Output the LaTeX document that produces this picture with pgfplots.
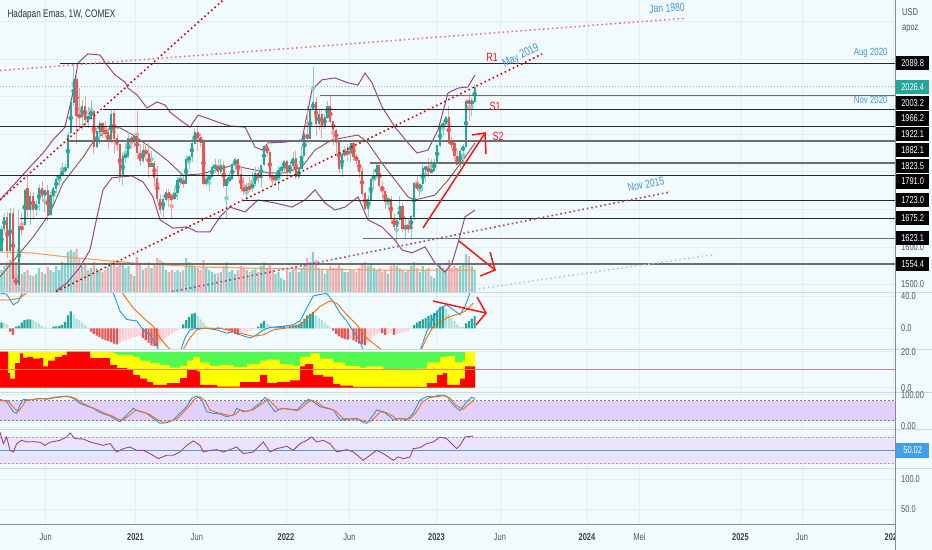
\documentclass[border=0pt]{standalone}
\usepackage{fontspec}
\setmainfont{Liberation Sans}[FakeStretch=0.75]
\usepackage{pgfplots}
\usepackage{pgfplotstable}
\pgfplotsset{compat=1.18}
\definecolor{bg}{RGB}{241,250,253}
\definecolor{gridc}{RGB}{225,238,243}
\definecolor{sepc}{RGB}{205,218,225}
\definecolor{axc}{RGB}{130,140,145}
\definecolor{up}{RGB}{38,166,154}
\definecolor{dn}{RGB}{239,83,80}
\definecolor{uplt}{RGB}{178,223,219}
\definecolor{dnlt}{RGB}{255,205,210}
\definecolor{bbc}{RGB}{150,70,150}
\definecolor{bbm}{RGB}{140,82,82}
\definecolor{macdc}{RGB}{33,150,243}
\definecolor{sigc}{RGB}{255,109,0}
\definecolor{vmac}{RGB}{255,152,80}
\definecolor{lblue}{RGB}{66,150,228}
\definecolor{annred}{RGB}{255,20,20}
\definecolor{txtgray}{RGB}{85,85,85}
\definecolor{stfill}{RGB}{225,208,250}
\definecolor{rsifill}{RGB}{235,228,252}
\definecolor{rsic}{RGB}{150,70,150}
\definecolor{cgreen}{RGB}{80,250,80}
\definecolor{cyellow}{RGB}{255,255,0}
\definecolor{cred}{RGB}{255,0,0}
\definecolor{lvlpurple}{RGB}{190,130,190}
\definecolor{rsiblue}{RGB}{66,160,230}
\definecolor{lvldark}{RGB}{40,40,40}
\definecolor{lvlgray}{RGB}{110,110,110}
\newcommand{\fs}[1]{\fontsize{#1}{#1}\selectfont}

\pgfplotstableread{
i O H L C V M K
0 1590 1655 1585 1648 22 7 1
1 1648 1691 1640 1680 26 6.5 2
2 1680 1692 1570 1590 30 5 2
3 1590 1704 1580 1690 32 -4 3
4 1690 1704 1504 1516 34 -8 3
5 1516 1560 1481 1500 30 2 1
6 1500 1699 1482 1654 28 3 1
7 1654 1690 1630 1645 18 7 1
8 1660 1753 1655 1752 20 10 1
9 1755 1788 1680 1698 22 11 1
10 1698 1747 1659 1736 17 11 1
11 1735 1747 1674 1700 16 10 2
12 1700 1725 1682 1714 18 8 2
13 1714 1765 1695 1756 24 6 2
14 1757 1775 1722 1735 20 3 2
15 1735 1751 1693 1751 18 1 2
16 1750 1765 1670 1683 25 0.5 2
17 1685 1745 1681 1737 22 0.5 2
18 1737 1760 1716 1755 20 2 1
19 1756 1789 1744 1780 26 2.5 1
20 1781 1795 1762 1790 22 3 1
21 1791 1825 1788 1802 30 4 1
22 1803 1820 1797 1810 28 8 1
23 1812 1905 1808 1897 40 16 1
24 1903 1985 1900 1985 42 21 1
25 1985 2089 1978 2046 40 17 2
26 2046 2058 1874 1949 43 12 2
27 1950 2024 1911 1947 34 10 2
28 1946 1990 1911 1974 26 7 2
29 1974 2001 1919 1940 28 4 2
30 1940 1972 1916 1948 22 1 2
31 1948 1990 1940 1962 24 -4 3
32 1962 1965 1848 1866 30 -7 3
33 1866 1917 1864 1907 24 -9 3
34 1907 1935 1873 1930 22 -11 3
35 1930 1933 1890 1906 20 -13 3
36 1906 1935 1891 1905 22 -15 3
37 1905 1915 1860 1880 25 -16 3
38 1880 1966 1877 1952 30 -17 3
39 1955 1965 1848 1889 32 -19 3
40 1889 1900 1855 1873 25 -20 3
41 1873 1875 1774 1788 30 -18 4
42 1788 1850 1765 1840 28 -16 4
43 1840 1877 1823 1843 24 -15 4
44 1843 1906 1837 1888 26 -13 4
45 1888 1896 1861 1883 18 -12 4
46 1883 1904 1867 1895 16 -11 4
47 1895 1963 1835 1850 35 -10 4
48 1850 1875 1817 1829 28 -9 4
49 1829 1875 1823 1856 22 -12 3
50 1856 1876 1832 1848 24 -15 3
51 1848 1876 1784 1814 30 -18 3
52 1814 1855 1812 1823 24 -21 3
53 1823 1828 1760 1784 28 -22 3
54 1784 1816 1717 1728 34 -22 3
55 1728 1741 1687 1700 32 -18 4
56 1700 1739 1676 1727 30 -15 4
57 1727 1755 1719 1745 22 -12 4
58 1745 1755 1706 1732 20 -9 4
59 1732 1740 1677 1729 22 -6 4
60 1729 1758 1725 1744 20 -4 4
61 1744 1785 1725 1777 22 -2 4
62 1777 1797 1765 1777 20 -1 4
63 1777 1790 1756 1768 22 5 1
64 1768 1843 1767 1832 34 10 1
65 1832 1846 1808 1839 30 14 1
66 1839 1890 1825 1876 28 18 1
67 1876 1913 1873 1905 26 19 1
68 1905 1919 1855 1891 24 15 2
69 1891 1903 1867 1878 22 11 2
70 1878 1880 1765 1769 32 7 2
71 1769 1797 1763 1781 24 3 2
72 1781 1791 1750 1787 22 1 2
73 1787 1818 1785 1811 20 -1 3
74 1811 1834 1796 1815 18 -2 3
75 1815 1834 1789 1801 19 1 1
76 1801 1833 1795 1817 20 1 2
77 1817 1830 1758 1763 26 -1 4
78 1763 1783 1677 1780 30 -2 3
79 1780 1796 1772 1781 20 -3 3
80 1781 1823 1778 1819 22 -5 3
81 1819 1836 1805 1833 18 -7 3
82 1833 1834 1782 1792 22 -8 3
83 1792 1812 1745 1754 26 -6 4
84 1754 1787 1737 1752 24 -5 4
85 1752 1770 1721 1758 22 -4 4
86 1758 1785 1746 1757 20 -3 4
87 1757 1800 1747 1767 22 -2 4
88 1767 1814 1761 1796 24 -1 4
89 1796 1813 1770 1783 20 2 1
90 1783 1818 1758 1818 26 6 1
91 1818 1870 1815 1868 30 9 1
92 1868 1877 1842 1852 24 6 2
93 1852 1860 1777 1788 28 4 2
94 1788 1796 1761 1783 22 2 2
95 1783 1795 1768 1784 18 1.5 1
96 1784 1815 1752 1805 20 2 1
97 1805 1816 1785 1811 14 2.5 1
98 1811 1831 1797 1829 12 3 1
99 1829 1832 1786 1797 22 2.5 2
100 1797 1830 1793 1817 20 3 1
101 1817 1853 1807 1835 22 3.5 1
102 1835 1855 1780 1786 26 4 1
103 1786 1813 1780 1808 20 5 1
104 1808 1869 1807 1842 24 8 1
105 1842 1907 1842 1899 28 12 1
106 1899 1976 1878 1889 34 16 1
107 1889 1973 1889 1966 30 18 1
108 1966 2078 1966 1985 40 20 1
109 1985 1998 1895 1929 32 16 2
110 1929 1966 1910 1954 24 13 2
111 1954 1966 1889 1923 22 10 2
112 1923 1953 1915 1945 18 7 2
113 1945 1988 1940 1974 22 4 2
114 1974 2003 1930 1934 26 1 2
115 1934 1936 1872 1911 24 -3 3
116 1911 1915 1850 1883 24 -7 3
117 1883 1885 1797 1808 28 -10 3
118 1808 1850 1787 1846 24 -12 3
119 1846 1870 1840 1852 20 -13 3
120 1852 1875 1828 1851 20 -14 3
121 1851 1877 1825 1875 22 -13 4
122 1875 1880 1830 1840 22 -15 3
123 1840 1847 1822 1830 20 -17 3
124 1830 1830 1783 1801 24 -19 3
125 1801 1812 1733 1742 28 -20 3
126 1742 1745 1697 1703 30 -21 3
127 1703 1739 1680 1727 26 -17 4
128 1727 1784 1711 1781 28 -13 4
129 1781 1806 1754 1791 24 -10 4
130 1791 1824 1782 1816 22 -7 4
131 1816 1824 1759 1762 24 -5 4
132 1762 1775 1728 1749 20 -6 3
133 1749 1751 1700 1721 22 -8 3
134 1721 1734 1697 1728 18 -7 4
135 1728 1735 1661 1675 26 -6 4
136 1675 1689 1643 1655 28 -8 3
137 1655 1676 1615 1672 26 -7 4
138 1672 1735 1670 1709 24 -6 4
139 1709 1718 1640 1649 22 -5 4
140 1649 1680 1621 1656 20 -4 4
141 1656 1675 1637 1648 22 -3 4
142 1648 1686 1617 1681 26 -1 4
143 1681 1774 1672 1769 30 4 1
144 1769 1790 1749 1754 24 7 1
145 1754 1770 1733 1768 20 9 1
146 1768 1820 1749 1809 26 11 1
147 1809 1815 1772 1810 22 13 1
148 1810 1836 1785 1800 24 15 1
149 1800 1833 1797 1804 16 17 1
150 1804 1835 1804 1826 14 19 1
151 1826 1872 1826 1870 24 22 1
152 1870 1924 1865 1921 28 26 1
153 1921 1935 1897 1928 24 27 1
154 1928 1949 1920 1945 22 24 2
155 1945 1975 1875 1877 32 18 2
156 1877 1893 1860 1875 24 13 2
157 1875 1886 1835 1842 26 9 2
158 1842 1855 1817 1818 24 5 2
159 1818 1860 1810 1855 26 2 2
160 1855 1875 1813 1868 28 2 2
161 1868 1994 1868 1989 38 6 1
162 1989 2010 1934 1983 36 9 1
163 1983 1997 1949 1986 26 12 1
164 1986 2035 1983 2026 22 15 1
}\candles

\pgfplotstableread{
px P
0 1725
30 1813
43 1850
53 1885
65 1919
72 1999
78 2090
88 2114
100 2111
107 2084
115 2058
125 2039
128 2023
137 2005
147 1970
157 1986
165 1978
170 1959
180 1938
190 1919
198 1951
207 1943
217 1933
230 1922
245 1919
255 1866
262 1858
268 1877
285 1879
302 1885
312 2018
322 2045
335 2050
348 2037
358 2031
365 2063
372 2037
382 1973
395 1919
408 1877
417 1850
428 1858
438 1911
448 2010
458 2023
468 2026
475 2058
}\bbup

\pgfplotstableread{
px P
0 1520
33 1626
50 1690
63 1770
83 1839
93 1879
110 1917
120 1917
133 1898
150 1866
167 1831
183 1791
200 1794
217 1805
233 1818
245 1810
255 1805
268 1797
285 1797
302 1813
315 1858
332 1885
342 1890
358 1898
368 1877
382 1823
395 1778
408 1733
415 1725
435 1738
448 1778
458 1813
468 1850
475 1877
}\bbmid

\pgfplotstableread{
px P
0 1340
30 1380
50 1440
57 1485
67 1504
80 1546
90 1592
97 1680
103 1752
112 1784
120 1786
132 1789
143 1773
153 1733
160 1672
173 1650
187 1653
197 1640
210 1640
220 1680
230 1706
245 1693
258 1725
275 1717
292 1706
305 1725
315 1752
325 1717
335 1698
345 1706
358 1733
368 1672
382 1653
395 1618
402 1592
412 1584
425 1600
435 1557
445 1533
452 1557
458 1610
465 1680
475 1698
}\bblow

\pgfplotstableread{
px h
0 40
33 39
67 35
100 32
133 29
167 27
200 25
245 24
300 23
368 22
435 22
475 22
}\volma

\pgfplotstableread{
px v
0 44
6.7 42
13.3 29
18.3 33
21.7 42
26.7 55
40 70
80 70
105 60
113.3 44
120 21
126.7 11
136.7 9
143.3 -2
150 -8
156.7 -22
160 -30
170 -35
180 -30
185 -12
190 -2
196.7 0
206.7 0
216.7 -2
226.7 -6
233.3 -4
240 -8
250 -12
256.7 -8
263.3 -2
270 1
283.3 2.5
293.3 4.5
300 9
306.7 25
313.3 40
320 42
326.7 43
333.3 33
340 19
346.7 9
353.3 -4
360 -16
363.3 -28
380 -40
410 -35
420 -28
426.7 -4
433.3 13
440 25
446.7 29
453.3 23
460 17
465 27
470 44
475 52
}\macdline

\pgfplotstableread{
px v
0 35
10 35
20 37.6
26.7 44
30 50
60 62
100 58
118 50
121.7 45
133.3 25
143.3 13
153.3 2.5
160 -12
166.7 -22
171.7 -28
180 -30
183.3 -26
190 -12
196.7 -2
203.3 0
220 0
233.3 -4
253.3 -10
263.3 -8
273.3 -2
290 1
300 4.5
310 15
320 27
330 34
336.7 31
346.7 17
356.7 4.5
366.7 -12
376.7 -22
383.3 -28
400 -35
420 -30
426.7 -12
433.3 2.5
446.7 13
456.7 17
465 21
473.3 31
}\sigline

\pgfplotstableread{
px v
0 20
3 20
8 8
10 5
15 13.5
20 19
23 16.5
27 17
33 16
40 16.5
43 11.7
48 15
55 17
62 18
67 20
90 16.3
110 12.6
117 10.7
127 9.8
133 7
140 5
147 3
153 1.5
167 2.4
180 5.2
187 9.8
197 8.9
200 1.5
217 0.5
240 3
260 7
267 2.4
277 3
290 4
300 11.7
305 13
313 7
323 6
333 2
340 1
353 0.3
420 0.3
427 2.4
437 7
443 8
447 1.5
460 5
465 11.7
475 11.7
}\redtop

\pgfplotstableread{
px v
0 20
110 20
113 19
117 18
133 17
140 15
150 13.5
160 12.5
170 11
180 12
187 15
193 17
200 14
210 12
220 12.5
233 11.5
247 13
260 15
267 15.5
280 13
293 12
300 17
310 19
320 16
333 14
345 12
360 11
367 11.7
383 10
400 9.5
417 10.5
427 14
440 17
447 17.5
455 14
463 15
465 20
475 20
}\yeltop

\pgfplotstableread{
px v
0 84
6.7 77
13.3 47
16.7 42
20 67
23.3 84
30 82
40 87
46.7 84
53.3 90
60 92
66.7 94
73.3 87
80 72
86.7 64
93.3 57
100 44
110 34
116.7 22
120 17
126.7 37
133.3 57
140 47
146.7 42
153.3 27
160 12
166.7 14
173.3 22
180 42
186.7 62
191.7 87
196.7 94
201.7 82
206.7 47
213.3 42
220 40
226.7 32
233.3 37
236.7 57
243.3 47
250 50
260 72
265 90
270 67
275 47
281.7 57
290 54
296.7 50
303.3 72
308.3 84
313.3 77
320 62
326.7 57
333.3 52
340 22
346.7 24
356.7 27
363.3 14
366.7 12
373.3 37
376.7 52
383.3 47
390 32
393.3 22
400 27
406.7 22
413.3 42
420 82
426.7 92
433.3 92
440 97
446.7 94
453.3 67
460 50
466.7 77
471.7 90
475 87
}\stk

\pgfplotstableread{
px v
0 80
8 80
15 55
18.5 48
22 62
26 80
33 84
43 86
50 86
56 89
63 92
70 92
76 86
83 72
90 62
97 53
104 43
113 33
119 23
123 22
130 37
136 52
143 46
150 38
157 24
163 15
170 17
177 26
183 44
190 66
195 86
200 92
205 80
210 52
216 45
223 40
230 35
236 40
240 52
246 48
253 52
263 72
268 86
273 70
278 54
284 56
293 54
299 52
306 70
311 82
317 76
323 62
330 56
336 48
343 26
350 25
359 24
366 16
370 16
376 33
380 46
386 45
393 33
396 26
403 25
410 26
416 44
423 78
430 90
437 92
443 95
450 88
456 66
463 54
470 72
475 84
}\std

\pgfplotstableread{
px v
0 77.5
3.3 60
6.7 70
10 50
13.3 47.5
16.7 60
21.7 65
26.7 62.5
33.3 63
40 62
45 57.5
50 62
60 65
66.7 70
70 76
75 67.5
83.3 67
90 62.5
96.7 60
103.3 57.5
110 60
116.7 47.5
123.3 52.5
130 55
136.7 50
143.3 50
150 45
158.3 37.5
166.7 42.5
173.3 42.5
180 47.5
186.7 57.5
193.3 64
200 57.5
203.3 47.5
210 50
216.7 51
223.3 47.5
230 51
236.7 55
243.3 45
253.3 47.5
263.3 62.5
270 47.5
276.7 52.5
286.7 56
293.3 50
300 60
306.7 65
311.7 70
316.7 62.5
323.3 65
330 60
336.7 47.5
346.7 51
353.3 47.5
363.3 35
370 42.5
376.7 50
383.3 45
393.3 35
398.3 40
403.3 37.5
410 40
413.3 52.5
420 54
426.7 60
433.3 62.5
440 70
446.7 67.5
453.3 57.5
456.7 52.5
460 57.5
465 70
473.3 71.5
}\rsi

\pgfplotsset{
  pane/.style={scale only axis, width=895bp, xmin=0, xmax=895, anchor=north west,
    axis line style={draw=none}, tick style={draw=none}, major tick length=0pt,
    xtick={45.7,135.5,197,286,349.5,436.5,500,587,639.5,740.5,802,893},
    xticklabels={}, yticklabels={},
    xmajorgrids, ymajorgrids, major grid style={draw=gridc, line width=0.6bp},
    clip mode=individual},
  dots/.style={line width=1.6bp, dash pattern=on 1.6bp off 2.9bp},
  upsel/.style={restrict expr to domain={\thisrow{C}-\thisrow{O}}{0:1000}},
  dnsel/.style={restrict expr to domain={\thisrow{C}-\thisrow{O}}{-1000:-0.001}},
}

\begin{document}
\begin{tikzpicture}
\useasboundingbox (0,0) rectangle (932bp,-550bp);
\fill[bg] (0,0) rectangle (932bp,-550bp);

% ---------------- price pane
\begin{axis}[pane, at={(0bp,0bp)}, height=292bp, ymin=1479.8, ymax=2257.6, ytick={1500,1600,...,2200}]
% volume
\addplot[ybar, bar width=2.2bp, bar shift=0pt, draw=none, fill=up, fill opacity=0.5, upsel]
  table[x expr=1.5+2.885*\thisrow{i}, y expr=1479.8+2.6638*\thisrow{V}] {\candles};
\addplot[ybar, bar width=2.2bp, bar shift=0pt, draw=none, fill=dn, fill opacity=0.45, dnsel]
  table[x expr=1.5+2.885*\thisrow{i}, y expr=1479.8+2.6638*\thisrow{V}] {\candles};
\addplot[vmac, line width=1bp] table[x=px, y expr=1479.8+2.6638*\thisrow{h}] {\volma};
% price line
\addplot[up!60, line width=0.6bp, dash pattern=on 1bp off 2bp] coordinates {(0,2026.4) (895,2026.4)};
% bollinger
\addplot[bbc, line width=1bp] table[x=px, y=P] {\bbup};
\addplot[bbm, line width=0.9bp] table[x=px, y=P] {\bbmid};
\addplot[bbc, line width=1bp] table[x=px, y=P] {\bblow};
% candles: wicks and bodies
\addplot[color=up!55, only marks, mark=none, upsel, error bars/.cd, y dir=both, y explicit, error mark=none,
  error bar style={line width=0.7bp, color=up!55}]
  table[x expr=1.5+2.885*\thisrow{i}, y expr=0.5*(\thisrow{H}+\thisrow{L}), y error expr=0.5*(\thisrow{H}-\thisrow{L})] {\candles};
\addplot[color=dn!55, only marks, mark=none, dnsel, error bars/.cd, y dir=both, y explicit, error mark=none,
  error bar style={line width=0.7bp, color=dn!55}]
  table[x expr=1.5+2.885*\thisrow{i}, y expr=0.5*(\thisrow{H}+\thisrow{L}), y error expr=0.5*(\thisrow{H}-\thisrow{L})] {\candles};
\addplot[color=up, only marks, mark=none, upsel, error bars/.cd, y dir=both, y explicit, error mark=none,
  error bar style={line width=2.1bp, color=up}]
  table[x expr=1.5+2.885*\thisrow{i}, y expr=0.5*(\thisrow{O}+\thisrow{C}), y error expr=0.5*abs(\thisrow{C}-\thisrow{O})+0.8] {\candles};
\addplot[color=dn, only marks, mark=none, dnsel, error bars/.cd, y dir=both, y explicit, error mark=none,
  error bar style={line width=2.1bp, color=dn}]
  table[x expr=1.5+2.885*\thisrow{i}, y expr=0.5*(\thisrow{O}+\thisrow{C}), y error expr=0.5*abs(\thisrow{C}-\thisrow{O})+0.8] {\candles};
% level lines
\addplot[lvldark, line width=0.9bp] coordinates {(60,2089.8) (895,2089.8)};
\addplot[lvlgray, line width=1.3bp] coordinates {(320,2003.2) (895,2003.2)};
\addplot[lvldark, line width=0.9bp] coordinates {(103,1966.2) (895,1966.2)};
\addplot[lvldark, line width=0.9bp] coordinates {(0,1922.1) (895,1922.1)};
\addplot[lvlgray, line width=1.3bp] coordinates {(67,1882.1) (895,1882.1)};
\addplot[lvlgray, line width=1.2bp] coordinates {(370,1823.5) (895,1823.5)};
\addplot[lvldark, line width=0.9bp] coordinates {(0,1791.0) (895,1791.0)};
\addplot[lvldark, line width=0.9bp] coordinates {(242,1723.0) (895,1723.0)};
\addplot[lvldark, line width=0.9bp] coordinates {(20,1675.2) (895,1675.2)};
\addplot[lvlgray, line width=1.3bp] coordinates {(363,1623.1) (895,1623.1)};
\addplot[lvlgray, line width=1.3bp] coordinates {(0,1554.4) (895,1554.4)};
% trend lines
\addplot[dots, red!85!black] coordinates {(0,1725) (235,2286)};
\addplot[dots, red!55] coordinates {(0,2069.8) (685,2208.9)};
\addplot[dots, red!85!black] coordinates {(52,1475.8) (542,2113.8)};
\addplot[dots, bbc] coordinates {(172,1480.8) (670,1746.2)};
\addplot[dots, lblue!45] coordinates {(470,1485) (715,1579.7)};
% arrows
\addplot[annred, line width=1.5bp] coordinates {(423,1650.3) (485,1903.3)};
\addplot[annred, line width=1.5bp] coordinates {(472,1898) (485,1903.3) (486,1847.4)};
\addplot[annred, line width=1.5bp] coordinates {(459,1615.6) (495,1538.4)};
\addplot[annred, line width=1.5bp] coordinates {(490,1586.3) (495,1538.4) (480,1522.4)};
% labels
\node[text=lblue, rotate=4, font=\fs{11.5}] at (axis cs:667,2236) {Jan 1980};
\node[text=annred, font=\fs{12}] at (axis cs:492,2106) {R1};
\node[text=lblue, rotate=27, font=\fs{12}] at (axis cs:521,2108) {May 2019};
\node[text=annred, font=\fs{12}] at (axis cs:495,1973) {S1};
\node[text=annred, font=\fs{12}] at (axis cs:498,1895) {S2};
\node[text=lblue, rotate=11, font=\fs{11.5}] at (axis cs:646,1767) {Nov 2015};
\node[text=lblue, anchor=east, font=\fs{10.5}] at (axis cs:891,2116) {Aug 2020};
\node[text=lblue, anchor=east, font=\fs{10.5}] at (axis cs:891,1991) {Nov 2020};
\node[text=black!80, anchor=west, font=\fs{11}] at (axis cs:4,2217.6) {Hadapan Emas, 1W, COMEX};
\end{axis}

% ---------------- MACD pane
\begin{axis}[pane, at={(0bp,-292bp)}, height=57bp, ymin=-25.63, ymax=44.95, ytick={0,40}]
\addplot[ybar, bar width=2.2bp, bar shift=0pt, draw=none, fill=up, restrict expr to domain={\thisrow{K}}{0.5:1.5}]
  table[x expr=1.5+2.885*\thisrow{i}, y=M] {\candles};
\addplot[ybar, bar width=2.2bp, bar shift=0pt, draw=none, fill=uplt, restrict expr to domain={\thisrow{K}}{1.5:2.5}]
  table[x expr=1.5+2.885*\thisrow{i}, y=M] {\candles};
\addplot[ybar, bar width=2.2bp, bar shift=0pt, draw=none, fill=dn, restrict expr to domain={\thisrow{K}}{2.5:3.5}]
  table[x expr=1.5+2.885*\thisrow{i}, y=M] {\candles};
\addplot[ybar, bar width=2.2bp, bar shift=0pt, draw=none, fill=dnlt, restrict expr to domain={\thisrow{K}}{3.5:4.5}]
  table[x expr=1.5+2.885*\thisrow{i}, y=M] {\candles};
\addplot[macdc, line width=0.9bp] table[x=px, y=v] {\macdline};
\addplot[sigc, line width=0.9bp] table[x=px, y=v] {\sigline};
\addplot[annred, line width=1.5bp] coordinates {(433,33.8) (486,18.9)};
\addplot[annred, line width=1.5bp] coordinates {(477,38.8) (486,18.9) (476,4.1)};
\end{axis}

% ---------------- colour pane
\begin{axis}[pane, at={(0bp,-349bp)}, height=43bp, ymin=-2.5, ymax=21.39, ytick={0,20}]
\addplot[fill=cgreen, draw=none] coordinates {(0,20) (475,20)} \closedcycle;
\addplot[fill=cyellow, draw=none, const plot] table[x=px, y=v] {\yeltop} \closedcycle;
\addplot[fill=cred, draw=none, const plot] table[x=px, y=v] {\redtop} \closedcycle;
\addplot[lvlpurple, line width=1.3bp] coordinates {(475,10) (895,10)};
\addplot[vmac!90!red, line width=1.3bp] coordinates {(0,10) (475,10)};
\end{axis}

% ---------------- stochastic pane
\begin{axis}[pane, at={(0bp,-392bp)}, height=37bp, ymin=-5.1, ymax=106, ytick={0,100}]
\addplot[draw=none, fill=stfill] coordinates {(0,20) (0,80) (895,80) (895,20)} -- cycle;
\addplot[gray, line width=0.8bp, dash pattern=on 2bp off 2bp] coordinates {(0,80) (895,80)};
\addplot[gray, line width=0.8bp, dash pattern=on 2bp off 2bp] coordinates {(0,20) (895,20)};
\addplot[macdc, line width=0.9bp] table[x=px, y=v] {\stk};
\addplot[sigc, line width=0.9bp] table[x=px, y=v] {\std};
\end{axis}

% ---------------- RSI pane
\begin{axis}[pane, at={(0bp,-429bp)}, height=39bp, ymin=23.4, ymax=82, ytick={30,70}]
\addplot[draw=none, fill=rsifill] coordinates {(0,30) (0,70) (895,70) (895,30)} -- cycle;
\addplot[gray!70, line width=0.8bp, dash pattern=on 2bp off 2bp] coordinates {(0,70) (895,70)};
\addplot[gray!70, line width=0.8bp, dash pattern=on 2bp off 2bp] coordinates {(0,30) (895,30)};
\addplot[rsiblue, line width=1bp] coordinates {(0,50) (895,50)};
\addplot[rsic, line width=0.9bp] table[x=px, y=v] {\rsi};
\end{axis}

% ---------------- empty pane
\begin{axis}[pane, at={(0bp,-468bp)}, height=56bp, ymin=25, ymax=118.3, ytick={50,100}]
\addplot[draw=none] coordinates {(0,60) (895,60)};
\end{axis}

\begin{scope}[x=1bp,y=-1bp]
\tikzset{dl/.style={text=txtgray, font=\fs{10}, inner sep=0pt},
  yl/.style={text=black!75, font=\bfseries\fs{10}, inner sep=0pt},
  gl/.style={anchor=west, text=txtgray, font=\fs{10}, inner sep=0pt},
  lb/.style={anchor=west, fill=black, text=white, font=\fs{10}, minimum width=33bp, minimum height=14.5bp, inner sep=0pt}}
\node[dl] at (45.7,537) {Jun};
\node[yl] at (135.5,537) {2021};
\node[dl] at (197,537) {Jun};
\node[yl] at (286,537) {2022};
\node[dl] at (349.5,537) {Jun};
\node[yl] at (436.5,537) {2023};
\node[dl] at (500,537) {Jun};
\node[yl] at (587,537) {2024};
\node[dl] at (639.5,537) {Mei};
\node[yl] at (740.5,537) {2025};
\node[dl] at (802,537) {Jun};
\node[yl] at (893,537) {2026};
\fill[bg] (895,0) rectangle (932,550);
\foreach \yy in {292,349,392,429,468} {\draw[sepc, line width=0.8bp] (0,\yy) -- (932,\yy);}
\draw[axc, line width=0.9bp] (895.5,0) -- (895.5,550);
\draw[axc, line width=0.9bp] (0,524.3) -- (895.5,524.3);
\node[gl] at (902,12) {USD};
\node[gl] at (902,29) {apoz};
\node[gl] at (901,284.5) {1500.0};
\node[gl] at (901,247.5) {1600.0};
\node[lb] at (896,63) {2089.8};
\node[lb, fill=up] at (896,87) {2026.4};
\node[lb] at (896,103) {2003.2};
\node[lb] at (896,118.5) {1966.2};
\node[lb] at (896,134) {1922.1};
\node[lb] at (896,150) {1882.1};
\node[lb] at (896,166) {1823.5};
\node[lb] at (896,181.5) {1791.0};
\node[lb] at (896,200) {1723.0};
\node[lb] at (896,218) {1675.2};
\node[lb] at (896,238) {1623.1};
\node[lb] at (896,264) {1554.4};
\node[gl] at (901,296.5) {40.0};
\node[gl] at (901,328) {0.0};
\node[gl] at (901,352.5) {20.0};
\node[gl] at (901,388) {0.0};
\node[gl] at (901,395.5) {100.00};
\node[gl] at (901,426) {0.00};
\node[lb, fill=rsiblue] at (896,450.3) {50.02};
\node[gl] at (901,479) {100.0};
\node[gl] at (901,509) {50.0};
\end{scope}
\end{tikzpicture}
\end{document}
